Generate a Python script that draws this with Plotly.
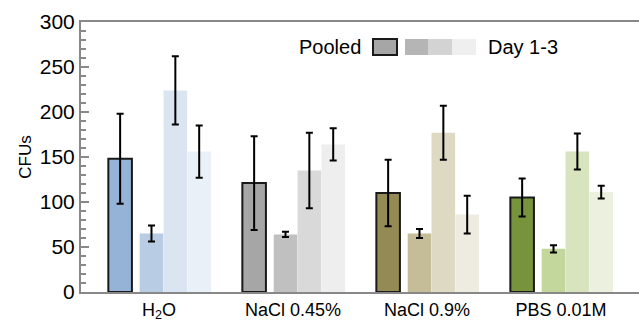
import plotly.graph_objects as go

categories = ["H<sub>2</sub>O", "NaCl 0.45%", "NaCl 0.9%", "PBS 0.01M"]
series = ["Pooled", "Day 1", "Day 2", "Day 3"]

pooled = [148, 121, 110, 105]
pooled_err = [50, 52, 37, 21]
day1 = [65, 64, 65, 48]
day1_err = [9, 3, 5, 4]
day2 = [224, 135, 177, 156]
day2_err = [38, 42, 30, 20]
day3 = [156, 164, 86, 111]
day3_err = [29, 18, 21, 7]

colors = {
    "Pooled": ["#95b3d7", "#a6a6a6", "#948a54", "#77933c"],
    "Day 1": ["#b8cce4", "#c0c0c0", "#c4bd97", "#c3d69b"],
    "Day 2": ["#dbe5f1", "#d9d9d9", "#ddd9c3", "#d7e4bd"],
    "Day 3": ["#eaf0f8", "#eeeeee", "#eeece1", "#ebf1de"],
}

values = {"Pooled": (pooled, pooled_err), "Day 1": (day1, day1_err),
          "Day 2": (day2, day2_err), "Day 3": (day3, day3_err)}
offsets = {"Pooled": -0.29, "Day 1": -0.056, "Day 2": 0.122, "Day 3": 0.300}
BW = 0.176

fig = go.Figure()
idx = list(range(len(categories)))
for s in series:
    v, e = values[s]
    fig.add_trace(go.Bar(
        x=[i + offsets[s] for i in idx], y=v, width=BW, name=s,
        marker=dict(color=colors[s],
                    line=dict(color="#1a1a1a" if s == "Pooled" else "rgba(0,0,0,0)",
                              width=2 if s == "Pooled" else 0)),
        error_y=dict(type="data", array=e, color="black", thickness=2, width=3.5),
        showlegend=False,
    ))

GRAY = "#888888"
fig.update_layout(
    width=639, height=324,
    margin=dict(l=81, r=0, t=22, b=32),
    plot_bgcolor="white", paper_bgcolor="white",
    barmode="overlay",
    font=dict(family="Liberation Sans, Arial, sans-serif", color="black"),
    xaxis=dict(range=[-0.582, 3.582], tickvals=idx, ticktext=categories,
               showline=True, linecolor=GRAY, linewidth=2, mirror=True,
               ticks="", showgrid=False, zeroline=False, automargin=False,
               tickfont=dict(size=18)),
    yaxis=dict(range=[0, 300], dtick=50, showline=True, linecolor=GRAY, linewidth=2,
               ticks="inside", ticklen=8, tickwidth=2, tickcolor=GRAY,
               minor=dict(dtick=10, ticks="inside", ticklen=5, tickwidth=2, tickcolor=GRAY),
               showgrid=False, zeroline=False, tickfont=dict(size=21), automargin=False,
               title=dict(text="CFUs", font=dict(size=17), standoff=4)),
)

def px(x):
    return (x - 81) / 558
def py(y):
    return (292 - y) / 270

fig.add_shape(type="rect", xref="paper", yref="paper", x0=px(373), x1=px(397),
              y0=py(55), y1=py(39), fillcolor="#a6a6a6", line=dict(color="#1a1a1a", width=2))
for (a, b, c) in [(405, 428, "#b5b5b5"), (428, 452, "#d3d3d3"), (452, 476, "#efefef")]:
    fig.add_shape(type="rect", xref="paper", yref="paper", x0=px(a), x1=px(b),
                  y0=py(55), y1=py(39), fillcolor=c, line=dict(width=0))
fig.add_annotation(text="Pooled", xref="paper", yref="paper", x=px(363), y=py(47),
                   xanchor="right", yanchor="middle", showarrow=False, font=dict(size=20))
fig.add_annotation(text="Day 1-3", xref="paper", yref="paper", x=px(486), y=py(47),
                   xanchor="left", yanchor="middle", showarrow=False, font=dict(size=20))

fig.write_html("out.html", config={"displayModeBar": False},
               post_script="document.body.style.margin='0';document.body.style.overflow='hidden';")
